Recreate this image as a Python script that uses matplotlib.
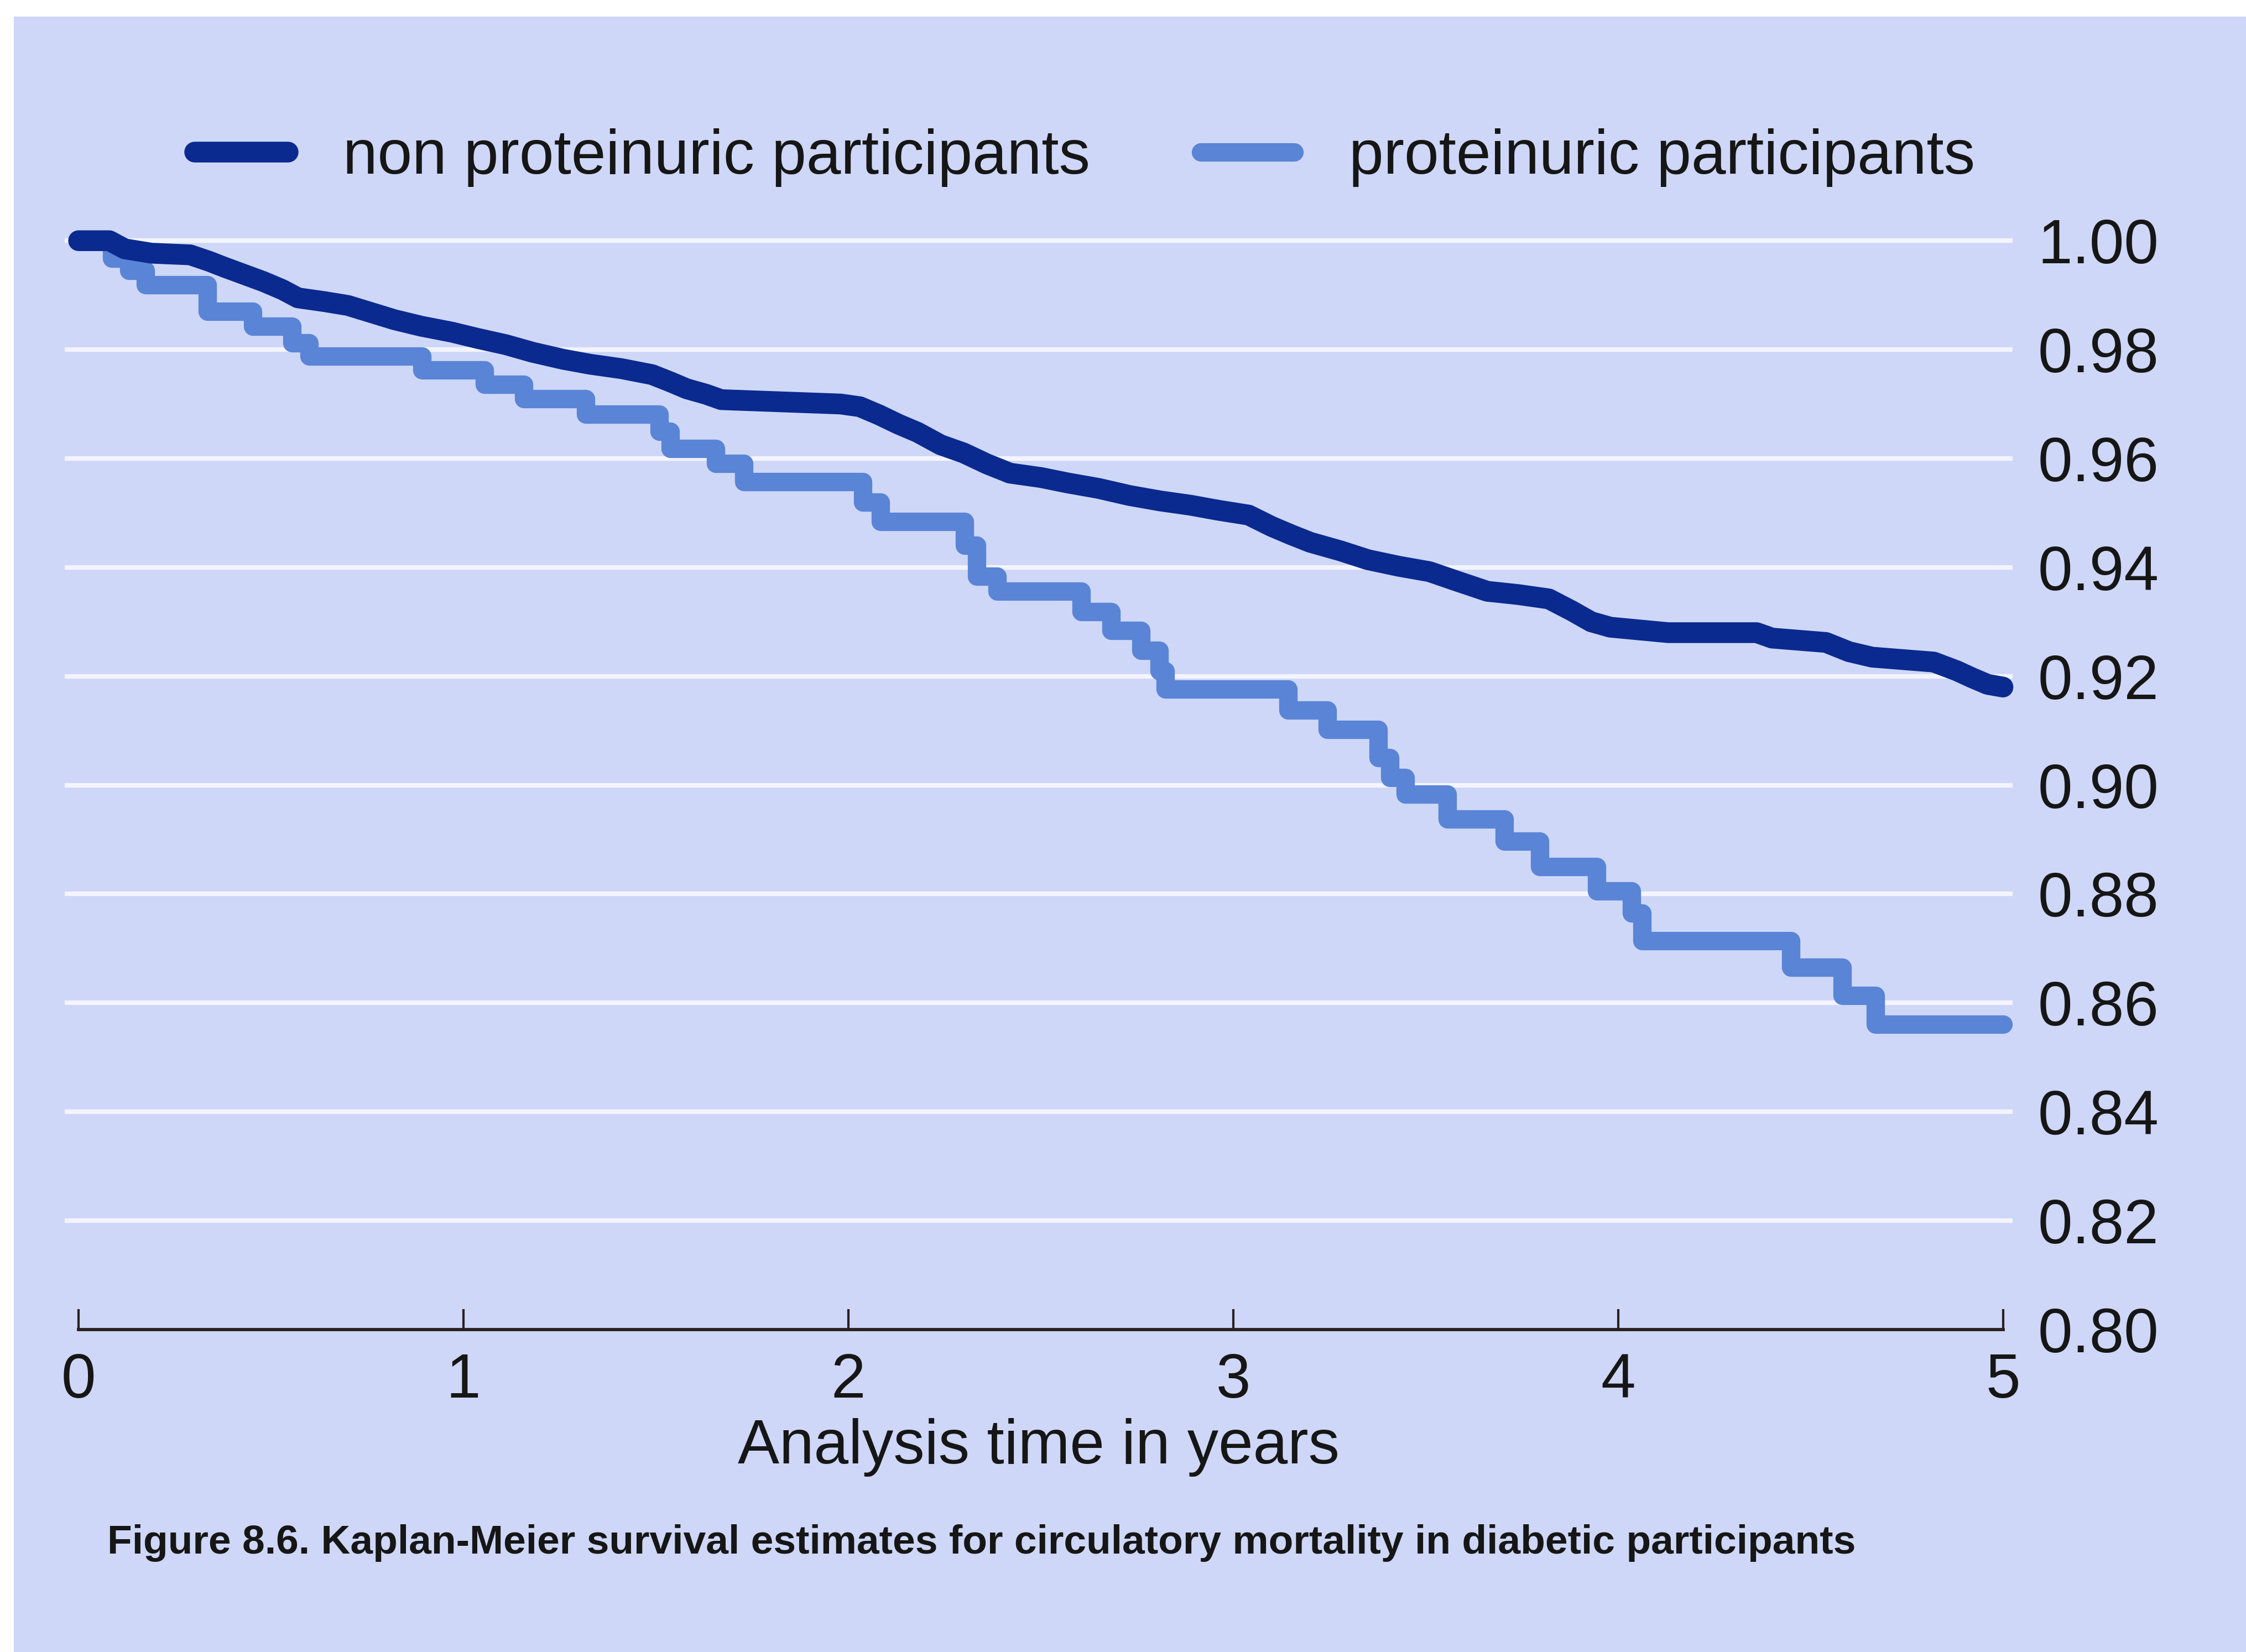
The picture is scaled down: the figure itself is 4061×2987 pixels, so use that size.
import matplotlib
matplotlib.use("Agg")
import matplotlib.pyplot as plt
from matplotlib.patches import Rectangle

# ---- data ----
t_non = [0.00, 0.08, 0.12, 0.19, 0.29, 0.34, 0.38, 0.43, 0.48, 0.53, 0.57, 0.64, 0.70, 0.76,
         0.82, 0.89, 0.97, 1.04, 1.11, 1.18, 1.26, 1.33, 1.41, 1.49, 1.54, 1.58, 1.63, 1.67,
         1.98, 2.03, 2.08, 2.13, 2.18, 2.24, 2.30, 2.36, 2.42, 2.50, 2.57, 2.65, 2.73, 2.81,
         2.89, 2.96, 3.04, 3.10, 3.15, 3.20, 3.28, 3.35, 3.43, 3.51, 3.58, 3.66, 3.74, 3.82,
         3.88, 3.93, 3.98, 4.13, 4.36, 4.40, 4.54, 4.60, 4.66, 4.82, 4.88, 4.92, 4.96, 5.00]
s_non = [1.000, 1.000, 0.9985, 0.9977, 0.9974, 0.9962, 0.9951, 0.9938, 0.9925, 0.9910, 0.9895,
         0.9888, 0.9881, 0.9868, 0.9855, 0.9843, 0.9832, 0.9820, 0.9809, 0.9795, 0.9782, 0.9773,
         0.9765, 0.9754, 0.9740, 0.9728, 0.9718, 0.9708, 0.9700, 0.9695, 0.9680, 0.9663, 0.9648,
         0.9625, 0.9610, 0.9590, 0.9573, 0.9565, 0.9555, 0.9545, 0.9532, 0.9522, 0.9514, 0.9505,
         0.9496, 0.9475, 0.9460, 0.9446, 0.9430, 0.9414, 0.9402, 0.9392, 0.9375, 0.9356, 0.9350,
         0.9342, 0.9320, 0.9300, 0.9290, 0.9280, 0.9280, 0.9270, 0.9262, 0.9245, 0.9235, 0.9226,
         0.9210, 0.9197, 0.9185, 0.9180]

t_pro = [0.000, 0.086, 0.130, 0.174, 0.335, 0.453, 0.555, 0.599, 0.892, 1.054, 1.157, 1.318,
         1.509, 1.537, 1.655, 1.728, 2.037, 2.083, 2.302, 2.333, 2.387, 2.605, 2.683, 2.761,
         2.808, 2.823, 3.142, 3.244, 3.377, 3.407, 3.447, 3.556, 3.704, 3.797, 3.945, 4.035,
         4.062, 4.449, 4.582, 4.669, 5.000]
s_pro = [1.000, 0.9968, 0.9945, 0.9919, 0.9870, 0.9843, 0.9812, 0.9788, 0.9762, 0.9736, 0.9710,
         0.9681, 0.9650, 0.9618, 0.9591, 0.9557, 0.9520, 0.9484, 0.9440, 0.9384, 0.9356, 0.9318,
         0.9284, 0.9247, 0.9210, 0.9176, 0.9138, 0.9102, 0.9050, 0.9014, 0.8983, 0.8938, 0.8897,
         0.8850, 0.8805, 0.8765, 0.8714, 0.8665, 0.8613, 0.8561, 0.8561]

series_labels = ["non proteinuric participants", "proteinuric participants"]
x_ticks = [0, 1, 2, 3, 4, 5]
y_ticks = [0.80, 0.82, 0.84, 0.86, 0.88, 0.90, 0.92, 0.94, 0.96, 0.98, 1.00]
x_label = "Analysis time in years"
caption = "Figure 8.6. Kaplan-Meier survival estimates for circulatory mortality in diabetic participants"

# ---- style ----
plt.rcParams['font.family'] = ['Liberation Sans', 'DejaVu Sans']
BG = '#CED7F7'
DARK = '#0B2A8F'
LIGHT = '#5A84D6'
TXT = '#161616'
W, H = 4062, 2987
FS = 27

fig = plt.figure(figsize=(W / 300, H / 300), dpi=300, facecolor=BG)
# white scan margins
fig.patches.append(Rectangle((0, 1 - 30 / H), 1, 30 / H, transform=fig.transFigure,
                             facecolor='white', edgecolor='none', zorder=0))
fig.patches.append(Rectangle((0, 0), 25 / W, 1, transform=fig.transFigure,
                             facecolor='white', edgecolor='none', zorder=0))

ax = fig.add_axes([117 / W, 1 - 2453 / H, (3639 - 117) / W, (2453 - 386) / H])
ax.set_facecolor('none')
ax.set_xlim(-0.036, 5.025)
ax.set_ylim(0.795, 1.005)

for yv in y_ticks[1:]:
    ax.axhline(yv, color='#F4F4FF', lw=2.0, zorder=1)

ax.plot(t_non, s_non, color=DARK, lw=9, zorder=4,
        solid_capstyle='round', solid_joinstyle='round', label=series_labels[0], clip_on=False)
ax.plot(t_pro, s_pro, drawstyle='steps-post', color=LIGHT, lw=8, zorder=3,
        solid_capstyle='round', solid_joinstyle='round', label=series_labels[1], clip_on=False)

for side in ['top', 'left', 'right']:
    ax.spines[side].set_visible(False)
ax.spines['bottom'].set_position(('data', 0.80))
ax.spines['bottom'].set_bounds(0, 5)
ax.spines['bottom'].set_color('#2a2020')
ax.spines['bottom'].set_linewidth(1.4)

ax.set_xticks(x_ticks)
ax.set_xticklabels([str(v) for v in x_ticks])
ax.tick_params(axis='x', direction='in', length=9, width=1.0, color='#2a2020',
               labelsize=FS, pad=10, labelcolor=TXT)
ax.yaxis.tick_right()
ax.set_yticks(y_ticks)
ax.set_yticklabels([f"{v:.2f}" for v in y_ticks])
ax.tick_params(axis='y', length=0, labelsize=FS, pad=11, labelcolor=TXT)
ax.set_xlabel(x_label, fontsize=FS, color=TXT, labelpad=3)

leg = ax.legend(loc='center left', bbox_to_anchor=(352 / W, 1 - 285 / H),
                bbox_transform=fig.transFigure, ncol=2, frameon=False, fontsize=FS,
                handlelength=1.5, handletextpad=0.88, columnspacing=1.78, borderpad=0,
                borderaxespad=0)
for txt in leg.get_texts():
    txt.set_color(TXT)

fig.text(194 / W, 1 - 2790 / H, caption, fontsize=17.6, fontweight='bold', color=TXT,
         ha='left', va='center')

fig.savefig('out.png', dpi=300, facecolor=BG)
